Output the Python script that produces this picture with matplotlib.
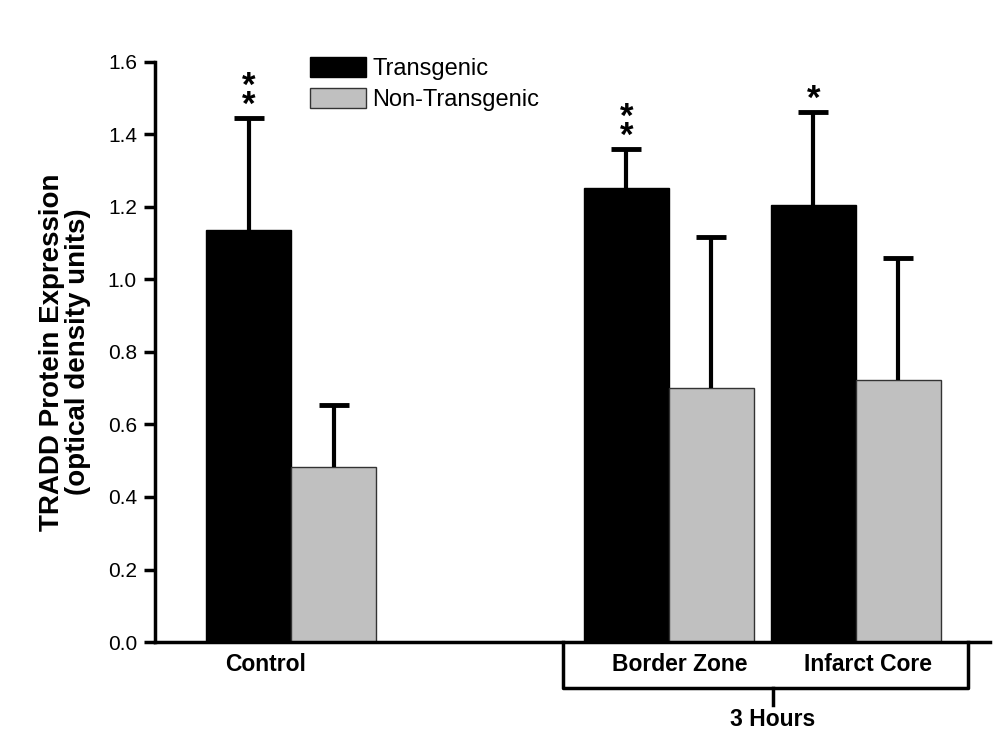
import numpy as np
import matplotlib
matplotlib.use("Agg")
from matplotlib import pyplot as plt

plt.rcParams['font.family'] = ['Liberation Sans', 'DejaVu Sans']

groups = ['Control', 'Border Zone', 'Infarct Core']
group_pos = [0.0, 2.22, 3.32]
transgenic = [1.137, 1.252, 1.205]
transgenic_err = [0.308, 0.108, 0.257]
non_transgenic = [0.483, 0.700, 0.723]
non_transgenic_err = [0.171, 0.417, 0.336]
stars = ['*\n*', '*\n*', '*']

width = 0.5
pos = np.array(group_pos)

fig = plt.figure(figsize=(10.04, 7.53), dpi=100)
ax = fig.add_axes([0.1544, 0.1474, 0.832, 0.7703])

ax.bar(pos - width / 2, transgenic, width, color='black', edgecolor='black',
       linewidth=1, label='Transgenic', zorder=2)
ax.bar(pos + width / 2, non_transgenic, width, color='#c0c0c0', edgecolor='#333333',
       linewidth=1, label='Non-Transgenic', zorder=2)

# upper error bars only
for xs, ys, es in [(pos - width / 2, transgenic, transgenic_err),
                   (pos + width / 2, non_transgenic, non_transgenic_err)]:
    eb = ax.errorbar(xs, ys, yerr=[np.zeros(3), es], fmt='none', ecolor='black',
                     elinewidth=3, capsize=11, capthick=3.5, zorder=3)
    eb[1][0].set_visible(False)

# significance marks
for x, y, e, s in zip(pos - width / 2, transgenic, transgenic_err, stars):
    ax.annotate(s, (x, y + e), xytext=(0, 2.5), textcoords='offset points',
                ha='center', va='baseline', fontsize=25, fontweight='bold',
                linespacing=0.45, color='black')

ax.set_xlim(-0.8, 4.11)
ax.set_ylim(0, 1.6)
ticks = np.arange(0, 1.61, 0.2)
ax.set_yticks(ticks)
ax.set_yticklabels([f'{v:.1f}' for v in ticks], fontsize=15)
ax.set_xticks([])
ax.tick_params(axis='y', direction='out', length=8, width=2.5, pad=5)

for side in ['top', 'right']:
    ax.spines[side].set_visible(False)
for side in ['left', 'bottom']:
    ax.spines[side].set_linewidth(2.5)

ax.set_ylabel('TRADD Protein Expression\n(optical density units)', fontsize=20,
              fontweight='bold', linespacing=1.0)
ax.yaxis.set_label_coords(-0.077, 0.5)

# category labels under the axis
label_shift = [-0.15, 0.065, 0.07]
for x, g, dx in zip(pos, groups, label_shift):
    ax.text(x + dx, -0.062, g, ha='center', va='center', fontsize=16.5,
            fontweight='bold', clip_on=False)

# bracket for the 3 hour groups
bx0, bx1 = 1.6, 3.98
yb = -0.127
ax.plot([bx0, bx0, bx1, bx1], [0, yb, yb, 0], color='black', lw=2.5, clip_on=False)
mid = 2.83
ax.plot([mid, mid], [yb, -0.174], color='black', lw=2.5, clip_on=False)
ax.text(mid, -0.214, '3 Hours', ha='center', va='center', fontsize=16.5,
        fontweight='bold', clip_on=False)

leg = ax.legend(loc='upper left', bbox_to_anchor=(0.174, 1.025), frameon=False,
                fontsize=17, handlelength=2.4, handleheight=0.9, borderaxespad=0,
                labelspacing=0.35, handletextpad=0.25)

plt.savefig('out.png', dpi=100)
